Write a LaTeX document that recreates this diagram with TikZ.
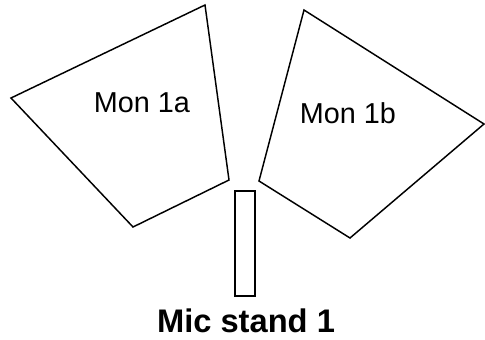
\documentclass[tikz,border=0pt]{standalone}
\usepackage{fontspec}
\setmainfont{Liberation Sans}
\begin{document}
\begin{tikzpicture}[x=0.75pt,y=-0.75pt,
    monitor/.style={draw, line width=1.1pt, line join=miter},
    label/.style={inner sep=0pt, font=\fontsize{21.6}{24}\selectfont},
    stand/.style={draw, line width=1.9pt}]
    \useasboundingbox (0,0) rectangle (485,339);
    %% monitor 1a
    \coordinate (a1) at (11,98);
    \coordinate (a2) at (205,5);
    \coordinate (a3) at (229,180);
    \coordinate (a4) at (133,227);
    \draw[monitor] (a1) -- (a2) -- (a3) -- (a4) -- cycle;
    \node[label] (mona) at (142,103) {Mon 1a};
    %% monitor 1b
    \coordinate (b1) at (304,10);
    \coordinate (b2) at (484,124);
    \coordinate (b3) at (350,238);
    \coordinate (b4) at (259,181);
    \draw[monitor] (b1) -- (b2) -- (b3) -- (b4) -- cycle;
    \node[label] (monb) at (348,113) {Mon 1b};
    %% mic stand
    \draw[stand] (235,191) rectangle (255,296);
    \node[inner sep=0pt, font=\bfseries\fontsize{24.5}{28}\selectfont] (mic) at (246,321) {Mic stand 1};
\end{tikzpicture}
\end{document}
